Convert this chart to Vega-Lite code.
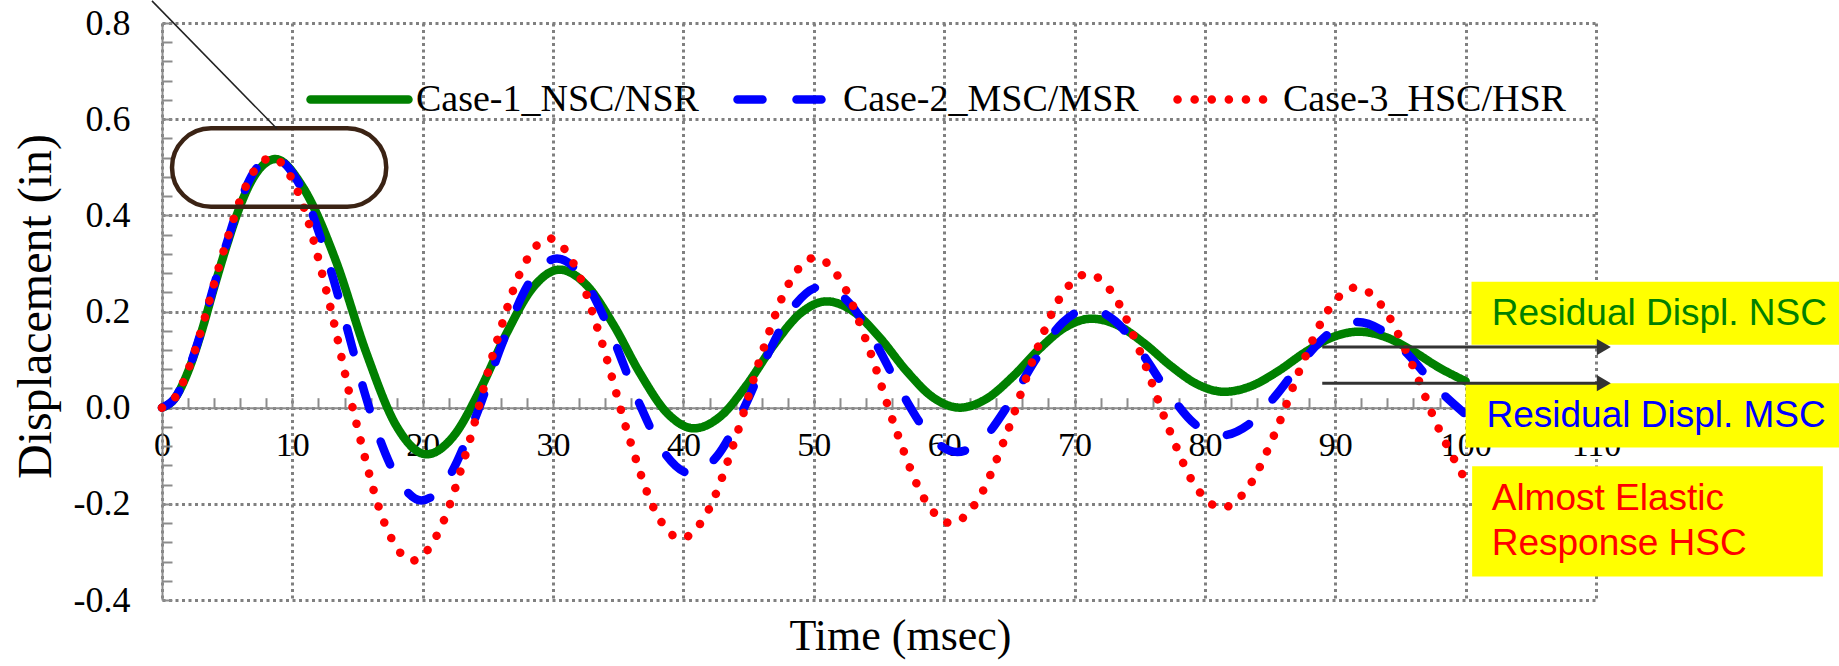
{
  "$schema": "https://vega.github.io/schema/vega-lite/v6.json",
  "width": 1434,
  "height": 577,
  "autosize": {"type": "none"},
  "padding": {"left": 162, "top": 23, "right": 243, "bottom": 66},
  "config": {"view": {"stroke": null}, "font": "Liberation Serif"},
  "datasets": {
    "curves": [
      {"t":0,"d":0,"c":"Case-1_NSC/NSR"},{"t":1,"d":0.02,"c":"Case-1_NSC/NSR"},{"t":2,"d":0.075,"c":"Case-1_NSC/NSR"},{"t":3,"d":0.155,"c":"Case-1_NSC/NSR"},{"t":4,"d":0.25,"c":"Case-1_NSC/NSR"},{"t":5,"d":0.34,"c":"Case-1_NSC/NSR"},{"t":6,"d":0.42,"c":"Case-1_NSC/NSR"},{"t":7,"d":0.478,"c":"Case-1_NSC/NSR"},{"t":8,"d":0.51,"c":"Case-1_NSC/NSR"},{"t":8.7,"d":0.517,"c":"Case-1_NSC/NSR"},
      {"t":10.82,"d":0.458,"c":"Case-1_NSC/NSR"},{"t":13.34,"d":0.305,"c":"Case-1_NSC/NSR"},{"t":15.66,"d":0.115,"c":"Case-1_NSC/NSR"},{"t":17.98,"d":-0.038,"c":"Case-1_NSC/NSR"},{"t":20.3,"d":-0.097,"c":"Case-1_NSC/NSR"},
      {"t":22.34,"d":-0.06,"c":"Case-1_NSC/NSR"},{"t":24.38,"d":0.036,"c":"Case-1_NSC/NSR"},{"t":26.42,"d":0.154,"c":"Case-1_NSC/NSR"},{"t":28.46,"d":0.25,"c":"Case-1_NSC/NSR"},{"t":30.5,"d":0.287,"c":"Case-1_NSC/NSR"},
      {"t":32.56,"d":0.255,"c":"Case-1_NSC/NSR"},{"t":34.62,"d":0.173,"c":"Case-1_NSC/NSR"},{"t":36.68,"d":0.071,"c":"Case-1_NSC/NSR"},{"t":38.74,"d":-0.011,"c":"Case-1_NSC/NSR"},{"t":40.8,"d":-0.043,"c":"Case-1_NSC/NSR"},
      {"t":42.84,"d":-0.018,"c":"Case-1_NSC/NSR"},{"t":44.88,"d":0.048,"c":"Case-1_NSC/NSR"},{"t":46.92,"d":0.13,"c":"Case-1_NSC/NSR"},{"t":48.96,"d":0.196,"c":"Case-1_NSC/NSR"},{"t":51,"d":0.221,"c":"Case-1_NSC/NSR"},
      {"t":53.04,"d":0.2,"c":"Case-1_NSC/NSR"},{"t":55.08,"d":0.145,"c":"Case-1_NSC/NSR"},{"t":57.12,"d":0.076,"c":"Case-1_NSC/NSR"},{"t":59.16,"d":0.021,"c":"Case-1_NSC/NSR"},{"t":61.2,"d":0,"c":"Case-1_NSC/NSR"},
      {"t":63.22,"d":0.018,"c":"Case-1_NSC/NSR"},{"t":65.24,"d":0.064,"c":"Case-1_NSC/NSR"},{"t":67.26,"d":0.121,"c":"Case-1_NSC/NSR"},{"t":69.28,"d":0.167,"c":"Case-1_NSC/NSR"},{"t":71.3,"d":0.185,"c":"Case-1_NSC/NSR"},
      {"t":73.34,"d":0.171,"c":"Case-1_NSC/NSR"},{"t":75.38,"d":0.133,"c":"Case-1_NSC/NSR"},{"t":77.42,"d":0.086,"c":"Case-1_NSC/NSR"},{"t":79.46,"d":0.048,"c":"Case-1_NSC/NSR"},{"t":81.5,"d":0.033,"c":"Case-1_NSC/NSR"},
      {"t":83.56,"d":0.045,"c":"Case-1_NSC/NSR"},{"t":85.62,"d":0.076,"c":"Case-1_NSC/NSR"},{"t":87.68,"d":0.115,"c":"Case-1_NSC/NSR"},{"t":89.74,"d":0.146,"c":"Case-1_NSC/NSR"},{"t":91.8,"d":0.158,"c":"Case-1_NSC/NSR"},
      {"t":93.84,"d":0.147,"c":"Case-1_NSC/NSR"},{"t":95.88,"d":0.119,"c":"Case-1_NSC/NSR"},{"t":97.92,"d":0.084,"c":"Case-1_NSC/NSR"},{"t":100,"d":0.055,"c":"Case-1_NSC/NSR"},

      {"t":0,"d":0,"c":"Case-2_MSC/MSR"},{"t":1,"d":0.02,"c":"Case-2_MSC/MSR"},{"t":2,"d":0.077,"c":"Case-2_MSC/MSR"},{"t":3,"d":0.158,"c":"Case-2_MSC/MSR"},{"t":4,"d":0.255,"c":"Case-2_MSC/MSR"},{"t":5,"d":0.345,"c":"Case-2_MSC/MSR"},{"t":6,"d":0.428,"c":"Case-2_MSC/MSR"},{"t":7,"d":0.488,"c":"Case-2_MSC/MSR"},{"t":8,"d":0.516,"c":"Case-2_MSC/MSR"},{"t":8.5,"d":0.52,"c":"Case-2_MSC/MSR"},
      {"t":10.78,"d":0.452,"c":"Case-2_MSC/MSR"},{"t":12.9,"d":0.29,"c":"Case-2_MSC/MSR"},{"t":14.3,"d":0.155,"c":"Case-2_MSC/MSR"},{"t":15.5,"d":0.035,"c":"Case-2_MSC/MSR"},{"t":16.5,"d":-0.05,"c":"Case-2_MSC/MSR"},{"t":17.62,"d":-0.125,"c":"Case-2_MSC/MSR"},{"t":18.8,"d":-0.175,"c":"Case-2_MSC/MSR"},{"t":19.9,"d":-0.193,"c":"Case-2_MSC/MSR"},
      {"t":21.98,"d":-0.145,"c":"Case-2_MSC/MSR"},{"t":24.06,"d":-0.019,"c":"Case-2_MSC/MSR"},{"t":26.14,"d":0.136,"c":"Case-2_MSC/MSR"},{"t":28.22,"d":0.262,"c":"Case-2_MSC/MSR"},{"t":30.3,"d":0.31,"c":"Case-2_MSC/MSR"},
      {"t":32.36,"d":0.267,"c":"Case-2_MSC/MSR"},{"t":34.42,"d":0.156,"c":"Case-2_MSC/MSR"},{"t":36.48,"d":0.017,"c":"Case-2_MSC/MSR"},{"t":38.54,"d":-0.094,"c":"Case-2_MSC/MSR"},{"t":40.6,"d":-0.137,"c":"Case-2_MSC/MSR"},
      {"t":42.6,"d":-0.1,"c":"Case-2_MSC/MSR"},{"t":44.6,"d":-0.003,"c":"Case-2_MSC/MSR"},{"t":46.6,"d":0.118,"c":"Case-2_MSC/MSR"},{"t":48.6,"d":0.215,"c":"Case-2_MSC/MSR"},{"t":50.6,"d":0.252,"c":"Case-2_MSC/MSR"},
      {"t":52.68,"d":0.219,"c":"Case-2_MSC/MSR"},{"t":54.76,"d":0.133,"c":"Case-2_MSC/MSR"},{"t":56.84,"d":0.027,"c":"Case-2_MSC/MSR"},{"t":58.92,"d":-0.059,"c":"Case-2_MSC/MSR"},{"t":61,"d":-0.092,"c":"Case-2_MSC/MSR"},
      {"t":63.02,"d":-0.064,"c":"Case-2_MSC/MSR"},{"t":65.04,"d":0.011,"c":"Case-2_MSC/MSR"},{"t":67.06,"d":0.102,"c":"Case-2_MSC/MSR"},{"t":69.08,"d":0.177,"c":"Case-2_MSC/MSR"},{"t":71.1,"d":0.205,"c":"Case-2_MSC/MSR"},
      {"t":73.12,"d":0.18,"c":"Case-2_MSC/MSR"},{"t":75.14,"d":0.114,"c":"Case-2_MSC/MSR"},{"t":77.16,"d":0.033,"c":"Case-2_MSC/MSR"},{"t":79.18,"d":-0.033,"c":"Case-2_MSC/MSR"},{"t":81.2,"d":-0.058,"c":"Case-2_MSC/MSR"},
      {"t":83.3,"d":-0.036,"c":"Case-2_MSC/MSR"},{"t":85.4,"d":0.024,"c":"Case-2_MSC/MSR"},{"t":87.5,"d":0.097,"c":"Case-2_MSC/MSR"},{"t":89.6,"d":0.156,"c":"Case-2_MSC/MSR"},{"t":91.7,"d":0.178,"c":"Case-2_MSC/MSR"},
      {"t":93.72,"d":0.158,"c":"Case-2_MSC/MSR"},{"t":95.74,"d":0.106,"c":"Case-2_MSC/MSR"},{"t":97.76,"d":0.042,"c":"Case-2_MSC/MSR"},{"t":100,"d":-0.014,"c":"Case-2_MSC/MSR"},

      {"t":0,"d":0,"c":"Case-3_HSC/HSR"},{"t":1,"d":0.021,"c":"Case-3_HSC/HSR"},{"t":2,"d":0.078,"c":"Case-3_HSC/HSR"},{"t":3,"d":0.16,"c":"Case-3_HSC/HSR"},{"t":4,"d":0.258,"c":"Case-3_HSC/HSR"},{"t":5,"d":0.35,"c":"Case-3_HSC/HSR"},{"t":6,"d":0.432,"c":"Case-3_HSC/HSR"},{"t":7,"d":0.49,"c":"Case-3_HSC/HSR"},{"t":8,"d":0.517,"c":"Case-3_HSC/HSR"},{"t":8.4,"d":0.52,"c":"Case-3_HSC/HSR"},
      {"t":10.56,"d":0.44,"c":"Case-3_HSC/HSR"},{"t":12.72,"d":0.231,"c":"Case-3_HSC/HSR"},{"t":14.88,"d":-0.029,"c":"Case-3_HSC/HSR"},{"t":17.04,"d":-0.238,"c":"Case-3_HSC/HSR"},{"t":19.2,"d":-0.318,"c":"Case-3_HSC/HSR"},
      {"t":21.3,"d":-0.254,"c":"Case-3_HSC/HSR"},{"t":23.4,"d":-0.087,"c":"Case-3_HSC/HSR"},{"t":25.5,"d":0.121,"c":"Case-3_HSC/HSR"},{"t":27.6,"d":0.288,"c":"Case-3_HSC/HSR"},{"t":29.7,"d":0.352,"c":"Case-3_HSC/HSR"},
      {"t":31.72,"d":0.292,"c":"Case-3_HSC/HSR"},{"t":33.74,"d":0.136,"c":"Case-3_HSC/HSR"},{"t":35.76,"d":-0.056,"c":"Case-3_HSC/HSR"},{"t":37.78,"d":-0.212,"c":"Case-3_HSC/HSR"},{"t":39.8,"d":-0.272,"c":"Case-3_HSC/HSR"},
      {"t":41.86,"d":-0.216,"c":"Case-3_HSC/HSR"},{"t":43.92,"d":-0.07,"c":"Case-3_HSC/HSR"},{"t":45.98,"d":0.11,"c":"Case-3_HSC/HSR"},{"t":48.04,"d":0.256,"c":"Case-3_HSC/HSR"},{"t":50.1,"d":0.312,"c":"Case-3_HSC/HSR"},
      {"t":52.18,"d":0.259,"c":"Case-3_HSC/HSR"},{"t":54.26,"d":0.121,"c":"Case-3_HSC/HSR"},{"t":56.34,"d":-0.049,"c":"Case-3_HSC/HSR"},{"t":58.42,"d":-0.187,"c":"Case-3_HSC/HSR"},{"t":60.5,"d":-0.24,"c":"Case-3_HSC/HSR"},
      {"t":62.6,"d":-0.191,"c":"Case-3_HSC/HSR"},{"t":64.7,"d":-0.061,"c":"Case-3_HSC/HSR"},{"t":66.8,"d":0.099,"c":"Case-3_HSC/HSR"},{"t":68.9,"d":0.229,"c":"Case-3_HSC/HSR"},{"t":71,"d":0.278,"c":"Case-3_HSC/HSR"},
      {"t":73.06,"d":0.232,"c":"Case-3_HSC/HSR"},{"t":75.12,"d":0.11,"c":"Case-3_HSC/HSR"},{"t":77.18,"d":-0.04,"c":"Case-3_HSC/HSR"},{"t":79.24,"d":-0.162,"c":"Case-3_HSC/HSR"},{"t":81.3,"d":-0.208,"c":"Case-3_HSC/HSR"},
      {"t":83.36,"d":-0.164,"c":"Case-3_HSC/HSR"},{"t":85.42,"d":-0.05,"c":"Case-3_HSC/HSR"},{"t":87.48,"d":0.092,"c":"Case-3_HSC/HSR"},{"t":89.54,"d":0.206,"c":"Case-3_HSC/HSR"},{"t":91.6,"d":0.25,"c":"Case-3_HSC/HSR"},
      {"t":93.68,"d":0.208,"c":"Case-3_HSC/HSR"},{"t":95.76,"d":0.098,"c":"Case-3_HSC/HSR"},{"t":97.84,"d":-0.038,"c":"Case-3_HSC/HSR"},{"t":100,"d":-0.151,"c":"Case-3_HSC/HSR"}
    ]
  },
  "layer": [
    {
      "data": {"name": "curves"},
      "mark": {"type": "line", "interpolate": "monotone", "strokeWidth": 8.5, "strokeCap": "round", "strokeJoin": "round"},
      "encoding": {
        "x": {
          "field": "t", "type": "quantitative",
          "scale": {"domain": [0, 110], "nice": false, "zero": false},
          "axis": {
            "title": "Time (msec)",
            "orient": "bottom",
            "offset": -192.3,
            "values": [0,2,4,6,8,10,12,14,16,18,20,22,24,26,28,30,32,34,36,38,40,42,44,46,48,50,52,54,56,58,60,62,64,66,68,70,72,74,76,78,80,82,84,86,88,90,92,94,96,98,100,102,104,106,108,110],
            "tickCount": 500,
            "labelExpr": "datum.value % 10 === 0 ? datum.label : ''",
            "format": "d",
            "grid": true,
            "gridColor": "#808080",
            "gridDash": [3, 3.5],
            "gridWidth": 3,
            "gridOpacity": {"condition": {"test": "datum.value % 10 === 0", "value": 1}, "value": 0},
            "domainColor": "#8c8c8c",
            "domainWidth": 2,
            "tickColor": "#8c8c8c",
            "tickWidth": 2,
            "tickSize": -10,
            "labelFont": "Liberation Serif",
            "labelFontSize": {"condition": {"test": "datum.value % 10 === 0", "value": 34}, "value": 0},
            "labelColor": "black",
            "labelPadding": 31,
            "labelFlush": false,
            "labelOverlap": false,
            "titleFont": "Liberation Serif",
            "titleFontSize": 44,
            "titleFontWeight": "normal",
            "titleColor": "black",
            "titleX": 738,
            "titleY": 242,
            "titleAlign": "center",
            "titleBaseline": "alphabetic"
          }
        },
        "y": {
          "field": "d", "type": "quantitative",
          "scale": {"domain": [-0.4, 0.8], "nice": false, "zero": false},
          "axis": {
            "title": "Displacement (in)",
            "values": [-0.4,-0.36,-0.32,-0.28,-0.24,-0.2,-0.16,-0.12,-0.08,-0.04,0,0.04,0.08,0.12,0.16,0.2,0.24,0.28,0.32,0.36,0.4,0.44,0.48,0.52,0.56,0.6,0.64,0.68,0.72,0.76,0.8],
            "tickCount": 500,
            "labelExpr": "abs(datum.value*5 - round(datum.value*5)) < 0.001 ? (datum.value < -0.001 ? '-' : '') + format(abs(datum.value), '.1f') : ''",
            "grid": true,
            "gridColor": "#808080",
            "gridDash": [3, 3.5],
            "gridWidth": 3,
            "gridOpacity": {"condition": {"test": "abs(datum.value*5 - round(datum.value*5)) < 0.001", "value": 1}, "value": 0},
            "domainColor": "#8c8c8c",
            "domainWidth": 2,
            "tickColor": "#8c8c8c",
            "tickWidth": 2,
            "tickSize": -10,
            "labelFont": "Liberation Serif",
            "labelFontSize": {"condition": {"test": "abs(datum.value*5 - round(datum.value*5)) < 0.001", "value": 36}, "value": 0},
            "labelColor": "black",
            "labelPadding": 42,
            "labelFlush": false,
            "labelOverlap": false,
            "titleFont": "Liberation Serif",
            "titleFontSize": 48,
            "titleFontWeight": "normal",
            "titleColor": "black",
            "titleX": -112,
            "titleY": 283,
            "titleAlign": "center",
            "titleBaseline": "alphabetic"
          }
        },
        "color": {
          "field": "c", "type": "nominal",
          "scale": {"domain": ["Case-1_NSC/NSR", "Case-2_MSC/MSR", "Case-3_HSC/HSR"], "range": ["#008000", "#0000ff", "#ff0000"]},
          "legend": {
            "title": null, "orient": "none", "legendX": 144, "legendY": 23, "direction": "horizontal", "gridAlign": "none",
            "symbolType": "stroke", "symbolSize": 9604, "symbolStrokeWidth": 8.5,
            "labelFont": "Liberation Serif", "labelFontSize": 38, "labelColor": "black", "labelOffset": 3, "labelLimit": 600,
            "columnPadding": 21, "padding": 0,
            "encode": {"symbols": {"update": {"strokeCap": {"value": "round"}}}}
          }
        },
        "strokeDash": {
          "field": "c", "type": "nominal",
          "scale": {"domain": ["Case-1_NSC/NSR", "Case-2_MSC/MSR", "Case-3_HSC/HSR"], "range": [[1, 0], [25, 34], [0.1, 17]]},
          "legend": {
            "title": null, "orient": "none", "legendX": 144, "legendY": 23, "direction": "horizontal", "gridAlign": "none",
            "symbolType": "stroke", "symbolSize": 9604, "symbolStrokeWidth": 8.5,
            "labelFont": "Liberation Serif", "labelFontSize": 38, "labelColor": "black", "labelOffset": 3, "labelLimit": 600,
            "columnPadding": 21, "padding": 0,
            "encode": {"symbols": {"update": {"strokeCap": {"value": "round"}}}}
          }
        }
      }
    },
    {
      "data": {"values": [{"x1": 0.77, "x2": 17.2, "y1": 0.418, "y2": 0.581}]},
      "mark": {"type": "rect", "cornerRadius": 39, "fill": null, "fillOpacity": 0, "stroke": "#3b2314", "strokeWidth": 4.5},
      "encoding": {
        "x": {"field": "x1", "type": "quantitative"},
        "x2": {"field": "x2"},
        "y": {"field": "y1", "type": "quantitative"},
        "y2": {"field": "y2"}
      }
    },
    {
      "data": {"values": [{"x1": 8.82, "y1": 0.58, "x2": -0.77, "y2": 0.846}]},
      "mark": {"type": "rule", "color": "#222222", "strokeWidth": 1.5},
      "encoding": {
        "x": {"field": "x1", "type": "quantitative"},
        "x2": {"field": "x2"},
        "y": {"field": "y1", "type": "quantitative"},
        "y2": {"field": "y2"}
      }
    },
    {
      "data": {"values": [
        {"x1": 100.45, "x2": 129, "y1": 0.131, "y2": 0.262},
        {"x1": 100.0, "x2": 129, "y1": -0.083, "y2": 0.051},
        {"x1": 100.5, "x2": 127.4, "y1": -0.351, "y2": -0.122}
      ]},
      "mark": {"type": "rect", "fill": "#ffff00", "stroke": null},
      "encoding": {
        "x": {"field": "x1", "type": "quantitative"},
        "x2": {"field": "x2"},
        "y": {"field": "y1", "type": "quantitative"},
        "y2": {"field": "y2"}
      }
    },
    {
      "data": {"values": [
        {"x1": 89.0, "x2": 110.6, "y": 0.126},
        {"x1": 89.0, "x2": 110.6, "y": 0.051}
      ]},
      "mark": {"type": "rule", "color": "#333333", "strokeWidth": 3},
      "encoding": {
        "x": {"field": "x1", "type": "quantitative"},
        "x2": {"field": "x2"},
        "y": {"field": "y", "type": "quantitative"}
      }
    },
    {
      "data": {"values": [
        {"x": 110.6, "y": 0.126},
        {"x": 110.6, "y": 0.051}
      ]},
      "mark": {"type": "point", "shape": "triangle-right", "size": 260, "filled": true, "color": "#333333", "opacity": 1},
      "encoding": {
        "x": {"field": "x", "type": "quantitative"},
        "y": {"field": "y", "type": "quantitative"}
      }
    },
    {
      "data": {"values": [{"x": 102.0, "y": 0.194, "label": "Residual Displ. NSC"}]},
      "mark": {"type": "text", "align": "left", "baseline": "middle", "font": "Liberation Sans", "fontSize": 37, "color": "#008000"},
      "encoding": {
        "x": {"field": "x", "type": "quantitative"},
        "y": {"field": "y", "type": "quantitative"},
        "text": {"field": "label"}
      }
    },
    {
      "data": {"values": [{"x": 101.6, "y": -0.017, "label": "Residual Displ. MSC"}]},
      "mark": {"type": "text", "align": "left", "baseline": "middle", "font": "Liberation Sans", "fontSize": 37, "color": "#0000ff"},
      "encoding": {
        "x": {"field": "x", "type": "quantitative"},
        "y": {"field": "y", "type": "quantitative"},
        "text": {"field": "label"}
      }
    },
    {
      "data": {"values": [
        {"x": 102.0, "y": -0.19, "label": "Almost Elastic"},
        {"x": 102.0, "y": -0.283, "label": "Response HSC"}
      ]},
      "mark": {"type": "text", "align": "left", "baseline": "middle", "font": "Liberation Sans", "fontSize": 37, "color": "#ff0000"},
      "encoding": {
        "x": {"field": "x", "type": "quantitative"},
        "y": {"field": "y", "type": "quantitative"},
        "text": {"field": "label"}
      }
    }
  ]
}
